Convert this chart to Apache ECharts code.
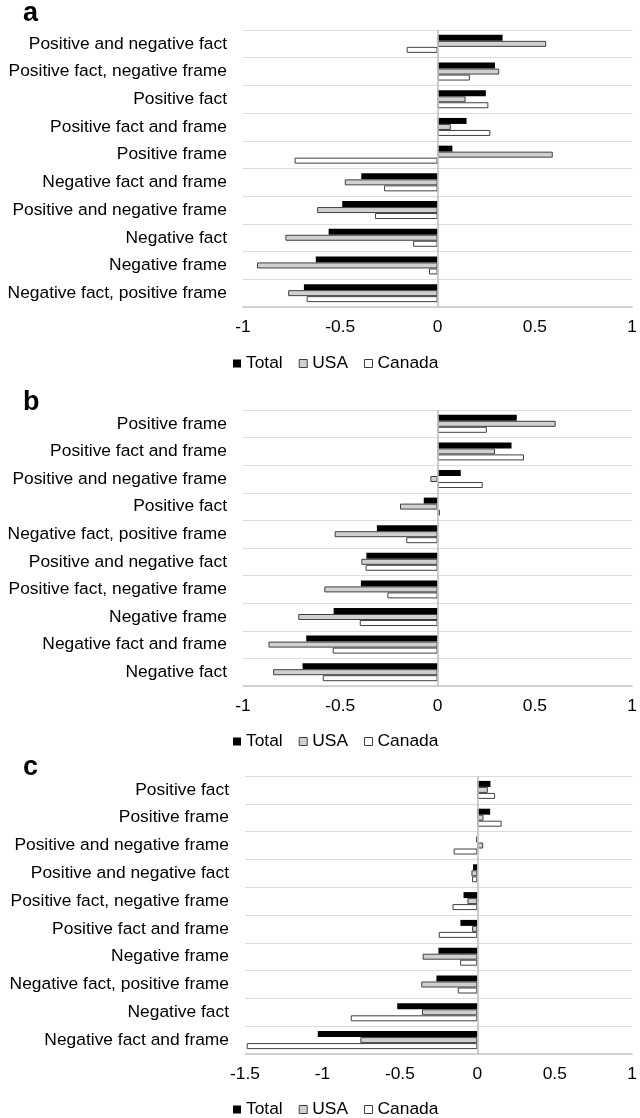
<!DOCTYPE html>
<html>
<head>
<meta charset="utf-8">
<script src="https://cdn.jsdelivr.net/npm/echarts@6/dist/echarts.min.js"></script>
<style>
html,body{margin:0;padding:0;background:#fff;}
#chart{width:640px;height:1118px;}
</style>
</head>
<body>
<div id="chart"></div>
<script>
// ---- Data ----
const seriesNames = ['Total', 'USA', 'Canada'];

const catsA = ['Positive and negative fact', 'Positive fact, negative frame', 'Positive fact',
  'Positive fact and frame', 'Positive frame', 'Negative fact and frame',
  'Positive and negative frame', 'Negative fact', 'Negative frame', 'Negative fact, positive frame'];
const totalA  = [0.334, 0.295, 0.248, 0.149, 0.076, -0.392, -0.490, -0.560, -0.626, -0.687];
const usaA    = [0.558, 0.317, 0.144, 0.068, 0.592, -0.477, -0.619, -0.782, -0.928, -0.768];
const canadaA = [-0.159, 0.166, 0.261, 0.271, -0.735, -0.275, -0.322, -0.126, -0.044, -0.673];

const catsB = ['Positive frame', 'Positive fact and frame', 'Positive and negative frame',
  'Positive fact', 'Negative fact, positive frame', 'Positive and negative fact',
  'Positive fact, negative frame', 'Negative frame', 'Negative fact and frame', 'Negative fact'];
const totalB  = [0.407, 0.380, 0.119, -0.071, -0.312, -0.366, -0.394, -0.534, -0.675, -0.694];
const usaB    = [0.607, 0.295, -0.037, -0.193, -0.529, -0.392, -0.582, -0.716, -0.869, -0.845];
const canadaB = [0.253, 0.444, 0.232, 0.012, -0.161, -0.370, -0.258, -0.400, -0.539, -0.590];

const catsC = ['Positive fact', 'Positive frame', 'Positive and negative frame',
  'Positive and negative fact', 'Positive fact, negative frame', 'Positive fact and frame',
  'Negative frame', 'Negative fact, positive frame', 'Negative fact', 'Negative fact and frame'];
const totalC  = [0.085, 0.083, -0.006, -0.028, -0.089, -0.109, -0.251, -0.264, -0.517, -1.030];
const usaC    = [0.068, 0.040, 0.038, -0.038, -0.064, -0.034, -0.353, -0.362, -0.357, -0.755];
const canadaC = [0.115, 0.157, -0.153, -0.034, -0.160, -0.249, -0.111, -0.126, -0.817, -1.489];

const panelLetters = ['a', 'b', 'c'];

// ---- Styles ----
const FONT = 'Liberation Sans, Arial, sans-serif';
const styles = {
  Total:  { color: '#000000', borderColor: '#000000', borderWidth: 0 },
  USA:    { color: '#d0d0d0', borderColor: '#404040', borderWidth: 1 },
  Canada: { color: '#ffffff', borderColor: '#404040', borderWidth: 1 }
};

const panels = [
  { cats: catsA, vals: [totalA, usaA, canadaA], min: -1,   max: 1, left: 243, right: 5, top: 30,  height: 277, legendTop: 350, titleTop: 0,   labelMargin: 16 },
  { cats: catsB, vals: [totalB, usaB, canadaB], min: -1,   max: 1, left: 243, right: 5, top: 410, height: 276, legendTop: 728, titleTop: 389, labelMargin: 16 },
  { cats: catsC, vals: [totalC, usaC, canadaC], min: -1.5, max: 1, left: 245, right: 2, top: 776, height: 278, legendTop: 1096, titleTop: 754, labelMargin: 16 }
];

const option = {
  backgroundColor: '#ffffff',
  animation: false,
  textStyle: { fontFamily: FONT },
  title: [], grid: [], xAxis: [], yAxis: [], legend: [], series: []
};

panels.forEach((p, i) => {
  option.title.push({
    text: panelLetters[i], left: 23, top: p.titleTop, padding: 0,
    textStyle: { fontFamily: FONT, fontSize: 27, fontWeight: 'bold', color: '#000' }
  });
  option.grid.push({ left: p.left, right: p.right, top: p.top, height: p.height, containLabel: false });
  option.xAxis.push({
    type: 'value', gridIndex: i, min: p.min, max: p.max, interval: 0.5,
    axisLine: { show: true, onZero: false, lineStyle: { color: '#c8c8c8', width: 1.5 } },
    axisTick: { show: false },
    splitLine: { show: false },
    axisLabel: { fontFamily: FONT, fontSize: 17.4, color: '#000', margin: 12 }
  });
  option.yAxis.push({
    type: 'category', gridIndex: i, inverse: true, data: p.cats,
    axisLine: { show: false }, axisTick: { show: false },
    splitLine: { show: true, lineStyle: { color: '#dcdcdc', width: 1 } },
    axisLabel: { fontFamily: FONT, fontSize: 17.4, color: '#000', margin: p.labelMargin }
  });
  option.legend.push({
    left: 228, top: p.legendTop, icon: 'rect', itemWidth: 8, itemHeight: 8, itemGap: 16,
    textStyle: { fontFamily: FONT, fontSize: 17.4, color: '#000' },
    data: seriesNames.map(n => ({ name: n, itemStyle: Object.assign({}, styles[n], { borderWidth: n === 'Total' ? 0 : 1 }) }))
  });
  seriesNames.forEach((n, k) => {
    const s = {
      name: n, type: 'bar', xAxisIndex: i, yAxisIndex: i,
      data: p.vals[k], barWidth: 6, barGap: '0%', barCategoryGap: '35%',
      itemStyle: styles[n]
    };
    if (k === 2) {
      s.markLine = {
        silent: true, symbol: ['none', 'none'], label: { show: false },
        lineStyle: { color: '#c0c0c0', width: 1.6, type: 'solid' },
        data: [{ xAxis: 0 }], z: 10
      };
    }
    option.series.push(s);
  });
});

const chart = echarts.init(document.getElementById('chart'), null, { renderer: 'canvas' });
chart.setOption(option);
</script>
</body>
</html>
